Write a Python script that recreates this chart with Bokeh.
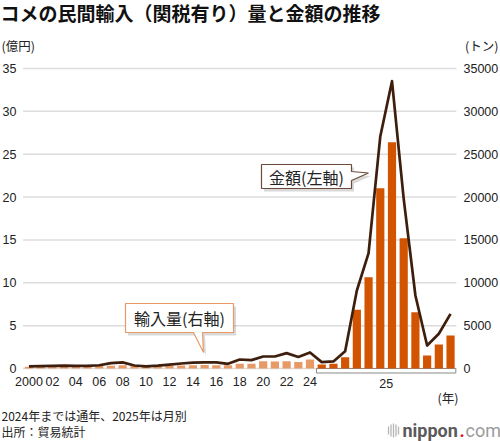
from bokeh.plotting import figure
from bokeh.models import Range1d
from bokeh.core.properties import value
from bokeh.embed import file_html
from bokeh.resources import INLINE

# ---- data ---------------------------------------------------------------
years = list(range(2000, 2025))
months = list(range(1, 13))

# yearly totals (2000-2024)
year_volume_t = [200, 230, 250, 260, 240, 250, 280, 330, 380, 250, 230, 260, 300,
                 340, 380, 400, 390, 380, 540, 560, 860, 820, 860, 750, 1050]
year_amount_oku = [0.25, 0.28, 0.30, 0.33, 0.30, 0.30, 0.38, 0.62, 0.72, 0.35, 0.25,
                   0.33, 0.45, 0.58, 0.68, 0.72, 0.72, 0.55, 1.05, 0.98, 1.40, 1.40,
                   1.79, 1.35, 1.87]

# monthly figures for 2025
month_volume_t = [470, 540, 1320, 6840, 10660, 21040, 26410, 15210, 6570, 1520, 2800, 3850]
month_amount_oku = [0.74, 0.82, 2.02, 9.10, 13.45, 27.07, 33.52, 19.8, 8.52, 2.68, 4.05, 6.38]

left_ticks = [0, 5, 10, 15, 20, 25, 30, 35]
right_ticks = [0, 5000, 10000, 15000, 20000, 25000, 30000, 35000]
x_tick_idx = [0, 2, 4, 6, 8, 10, 12, 14, 16, 18, 20, 22, 24]
x_tick_labels = ["2000", "02", "04", "06", "08", "10", "12",
                 "14", "16", "18", "20", "22", "24"]
month_group_label = "25"

title_text = "コメの民間輸入（関税有り）量と金額の推移"
left_unit, right_unit, x_unit = "(億円)", "(トン)", "(年)"
note_lines = ["2024年までは通年、2025年は月別", "出所：貿易統計"]
callout_amount = "金額(左軸)"
callout_volume = "輸入量(右軸)"

JP = "Noto Sans CJK JP"
NUM = "Liberation Sans"

# ---- page geometry: the plot frame covers the whole page ---------------
W, H = 500, 441
N = len(years) + len(months)
PLOT_LEFT, PLOT_RIGHT = 22.6, 455.9      # px extent of the category band
ZERO_PX, TOP_PX = 368.0, 68.0            # px rows of 0 and 35
XS = (PLOT_RIGHT - PLOT_LEFT) / N
YS = (ZERO_PX - TOP_PX) / 35.0


def dx(px):
    return (px - PLOT_LEFT) / XS - 0.5


def dy(py):
    return (ZERO_PX - py) / YS


p = figure(width=W, height=H, output_backend="svg", toolbar_location=None,
           x_range=Range1d(dx(0), dx(W)), y_range=Range1d(dy(H), dy(0)),
           x_axis_location=None, y_axis_location=None, min_border=0,
           outline_line_color=None, background_fill_color="white",
           border_fill_color="white")
p.grid.visible = False
p.extra_y_ranges = {"tons": Range1d(dy(H) * 1000, dy(0) * 1000)}


def put(x, y, text, size, color="#222222", font=JP, align="left", style="normal",
        y_range_name="default"):
    p.text(x=x, y=y, text=text, text_font=value(font), text_font_size=size,
           text_color=color, text_align=align, text_baseline="middle",
           text_font_style=style, y_range_name=y_range_name)


# gridlines on the left-axis ticks
p.segment(x0=[-0.5] * len(left_ticks), x1=[N - 0.5] * len(left_ticks),
          y0=left_ticks, y1=left_ticks, line_color="#dcdcdc", line_width=1.5)

# tick labels
put([dx(16)] * len(left_ticks), left_ticks, [str(t) for t in left_ticks], "12.5px",
    font=NUM, align="right")
put([dx(463)] * len(right_ticks), right_ticks, [str(t) for t in right_ticks], "12.5px",
    font=NUM, y_range_name="tons")
put(x_tick_idx, [dy(381)] * len(x_tick_idx), x_tick_labels, "12.5px", font=NUM,
    align="center")
put([len(years) + (len(months) - 1) / 2], [dy(383)], [month_group_label], "12.5px",
    font=NUM, align="center")

# bracket under the monthly bars
p.quad(left=[len(years) - 0.5 + 0.05], right=[N - 0.5 - 0.05], bottom=[dy(372.5)],
       top=[0], fill_color="white", line_color="#8a8a8a", line_width=1)

# volume bars (right axis)
xi_year = list(range(len(years)))
xi_month = list(range(len(years), N))
p.vbar(x=xi_year, top=year_volume_t, width=0.7, y_range_name="tons",
       fill_color="#E89A66", line_color=None)
p.vbar(x=xi_month, top=month_volume_t, width=0.7, y_range_name="tons",
       fill_color="#D35400", line_color=None)

# amount line (left axis)
p.line(x=xi_year + xi_month, y=year_amount_oku + month_amount_oku,
       line_color="#3E1E0C", line_width=2.7, line_join="round")


# ---- callouts -----------------------------------------------------------
def callout(pts, text, cx, cy, border):
    xs = [dx(a) for a, b in pts]
    ys = [dy(b) for a, b in pts]
    p.patch(x=[x + 2.5 / XS for x in xs], y=[y - 3 / YS for y in ys],
            fill_color="#000000", fill_alpha=0.15, line_color=None)
    p.patch(x=xs, y=ys, fill_color="white", line_color=border, line_width=1.2)
    put([dx(cx)], [dy(cy)], [text], "16px", align="center")


callout([(261, 164), (351, 164), (351, 171), (368, 172.5), (351, 180), (351, 188), (261, 188)],
        callout_amount, 306, 176, "#6b4a3a")
callout([(125, 303), (233, 303), (233, 332), (202, 332), (203, 352), (193, 332), (125, 332)],
        callout_volume, 179, 317.5, "#E89A66")

# ---- header and footer --------------------------------------------------
put([dx(0)], [dy(12)], [title_text], "19px", color="#111111", style="bold")
put([dx(1)], [dy(45)], [left_unit], "12.5px")
put([dx(498)], [dy(45)], [right_unit], "12.5px", align="right")
put([dx(458)], [dy(397)], [x_unit], "12.5px", align="right")
put([dx(1)], [dy(415)], [note_lines[0]], "12px")
put([dx(1)], [dy(431)], [note_lines[1]], "12px")

# site mark
mark_x = [388, 390.5, 393, 395.5, 398]
mark_h = [4, 6, 7, 6, 4]
p.vbar(x=[dx(v) for v in mark_x], top=[dy(430 - h) for h in mark_h],
       bottom=[dy(430 + h) for h in mark_h], width=1.3 / XS,
       fill_color="#b5b5b5", line_color=None)
put([dx(402)], [dy(430)], ["nippon"], "18px", color="#5a5a5a", font="Roboto", style="bold")
put([dx(459)], [dy(430)], ["."], "18px", color="#e60012", font="Roboto", style="bold")
put([dx(465)], [dy(430)], ["com"], "18px", color="#9a9a9a", font="Roboto")

open("out.html", "w").write(file_html(p, INLINE))
